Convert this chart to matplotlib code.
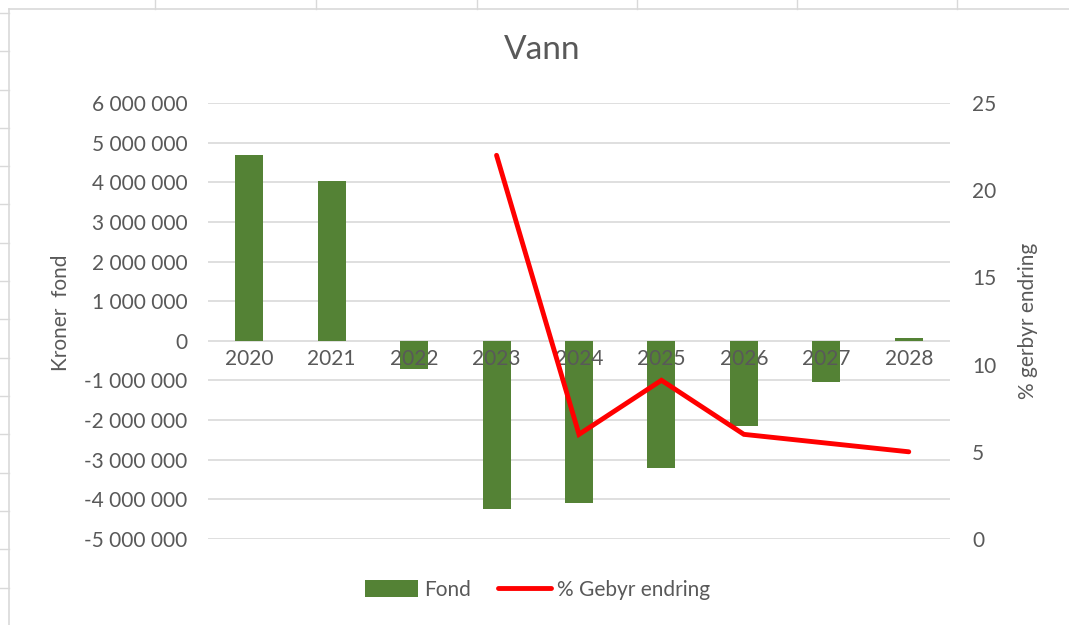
import numpy as np
import matplotlib.pyplot as plt
from matplotlib.lines import Line2D
from matplotlib.ticker import FuncFormatter

# data
years = ["2020", "2021", "2022", "2023", "2024", "2025", "2026", "2027", "2028"]
fond = [4700000, 4020000, -720000, -4240000, -4080000, -3200000, -2150000, -1030000, 80000]
gebyr = [np.nan, np.nan, np.nan, 22, 6, 9.1, 6, 5.5, 5]

GREEN = "#548235"
RED = "#ff0000"
TEXT = "#595959"
GRID = "#d9d9d9"
FS = 15

plt.rcParams['font.family'] = ['Lato', 'DejaVu Sans']

fig = plt.figure(figsize=(10.69, 6.25), dpi=100)

# spreadsheet cells behind the chart
for xc in [155, 316, 477, 637, 797, 957]:
    fig.add_artist(Line2D([xc / 1069, xc / 1069], [1, 1 - 9 / 625], color=GRID, lw=1))
for yr in np.arange(13, 625, 38.3):
    fig.add_artist(Line2D([0, 9 / 1069], [1 - yr / 625, 1 - yr / 625], color=GRID, lw=1))
fig.add_artist(Line2D([9 / 1069, 9 / 1069], [0, 1 - 9 / 625], color=GRID, lw=1.2))
fig.add_artist(Line2D([9 / 1069, 1], [1 - 9 / 625, 1 - 9 / 625], color=GRID, lw=1.2))

ax = fig.add_axes([208 / 1069, 1 - 539 / 625, 742 / 1069, 436 / 625])
x = np.arange(len(years))
ax.bar(x, fond, width=0.34, color=GREEN, zorder=2, label="Fond")
ax.set_xlim(-0.5, len(years) - 0.5)
ax.set_ylim(-5000000, 6000000)
ax.set_yticks(np.arange(-5000000, 6000001, 1000000))
ax.yaxis.set_major_formatter(FuncFormatter(lambda v, p: f"{v:,.0f}".replace(",", " ")))
ax.grid(axis='y', color=GRID, lw=1.2, zorder=0)
ax.set_xticks([])
ax.tick_params(axis='y', length=0, pad=15, labelsize=FS, labelcolor=TEXT)
for s in ax.spines.values():
    s.set_visible(False)
ax.set_ylabel("Kroner  fond", fontsize=FS, color=TEXT)
ax.yaxis.set_label_coords(-0.184, 0.52)

# category labels sit just under the zero line, over the bars
for xi, lab in zip(x, years):
    ax.annotate(lab, (xi, 0), xytext=(0, -6), textcoords='offset points',
                ha='center', va='top', fontsize=FS, color=TEXT, zorder=3)

ax2 = ax.twinx()
ax2.plot(x, gebyr, color=RED, lw=3.5, label="% Gebyr endring",
         solid_joinstyle='miter', solid_capstyle='round')
ax2.set_ylim(0, 25)
ax2.set_yticks([0, 5, 10, 15, 20, 25])
ax2.tick_params(axis='y', length=0, pad=16, labelsize=FS, labelcolor=TEXT)
for s in ax2.spines.values():
    s.set_visible(False)
ax2.set_ylabel("% gerbyr endring", fontsize=FS, color=TEXT)
ax2.yaxis.set_label_coords(1.092, 0.5)

fig.text(0.507, 0.92, "Vann", ha='center', va='center', fontsize=24, color=TEXT)

h1, l1 = ax.get_legend_handles_labels()
h2, l2 = ax2.get_legend_handles_labels()
fig.legend(h1 + h2, l1 + l2, loc='center', bbox_to_anchor=(0.503, 0.056), ncol=2,
           frameon=False, fontsize=FS, labelcolor=TEXT, handlelength=2.55,
           handleheight=0.85, handletextpad=0.3, columnspacing=1.3)

fig.savefig("out.png", dpi=100, facecolor="white")
